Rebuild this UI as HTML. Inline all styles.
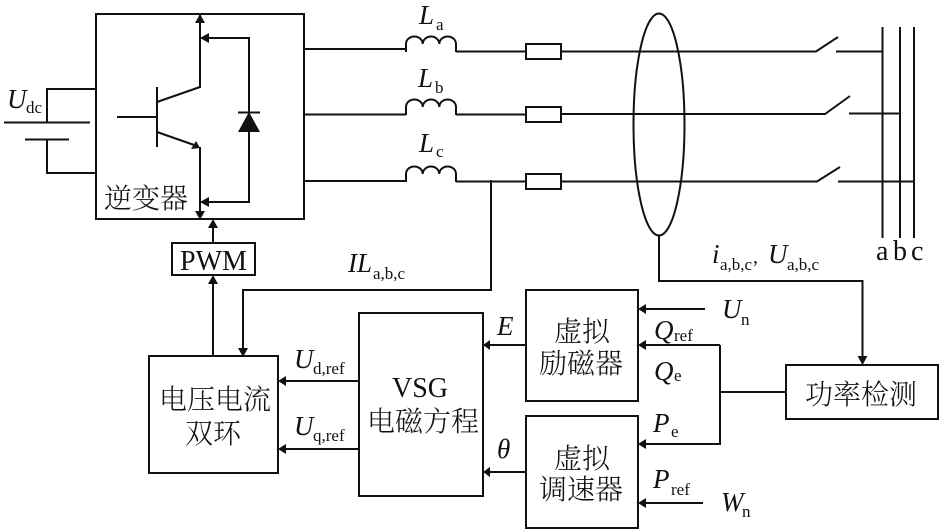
<!DOCTYPE html>
<html>
<head>
<meta charset="utf-8">
<style>
html,body{margin:0;padding:0;background:#fff;}
svg{display:block;}
text{fill:#111;}
.l{font-family:"Liberation Serif",serif;font-style:italic;font-size:27px;}
.s{font-family:"Liberation Serif",serif;font-size:17px;}
.r{font-family:"Liberation Serif",serif;font-size:28px;}
.c{font-family:"Liberation Serif","Noto Serif CJK SC",serif;font-size:28px;font-weight:300;}
</style>
</head>
<body>
<svg width="945" height="529" viewBox="0 0 945 529" xmlns="http://www.w3.org/2000/svg">
<rect width="945" height="529" fill="#fff"/>
<g fill="none" stroke="#111" stroke-width="2">
<!-- boxes -->
<rect x="96" y="14" width="208" height="205"/>
<rect x="172" y="243" width="83" height="32"/>
<rect x="149" y="356" width="129" height="117"/>
<rect x="359" y="313" width="124" height="183"/>
<rect x="526" y="290" width="112" height="111"/>
<rect x="526" y="416" width="112" height="112"/>
<rect x="786" y="365" width="152" height="54"/>
<!-- DC source -->
<path d="M96 89H47V122M4 122.500H90M25 139.500H69M47 139.500V173H96"/>
<!-- transistor -->
<path d="M157 87V147M117 117H157M157 102L200 87V14M157 132L197 146M200 147V219"/>
<path d="M200 38H249V202H200"/>
<path d="M238 112.500H260"/>
<!-- phase lines -->
<path d="M304 49H406M456 51.500H526M561 51.500H816L838 37M836 51.500H883"/>
<path d="M304 114.500H406M456 114.500H526M562 114H825L850 96M849 113.500H900"/>
<path d="M304 181H406M456 181.500H526M562 181.500H817L840 167M838 181.500H914"/>
<!-- inductors -->
<path d="M406 52V44A8.300 7.500 0 0 1 422.700 44A8.300 7.500 0 0 1 439.300 44A8.300 7.500 0 0 1 456 44V52"/>
<path d="M406 115V107A8.300 7.500 0 0 1 422.700 107A8.300 7.500 0 0 1 439.300 107A8.300 7.500 0 0 1 456 107V115"/>
<path d="M406 182V174A8.300 7.500 0 0 1 422.700 174A8.300 7.500 0 0 1 439.300 174A8.300 7.500 0 0 1 456 174V182"/>
<!-- resistors -->
<rect x="526" y="44" width="35" height="15"/>
<rect x="526" y="107" width="35" height="15"/>
<rect x="526" y="174" width="35" height="15"/>
<!-- bus -->
<path d="M882.500 27V238M900 27V238M914 27V238"/>
<!-- ellipse -->
<ellipse cx="659" cy="124.500" rx="25.500" ry="111"/>
<!-- connectors -->
<path d="M659 235V281H862.500V356"/>
<path d="M491 180V290H243V348"/>
<path d="M213 243V228M213 356V284"/>
<path d="M526 345H490M526 472H490M359 381H286M359 449H286"/>
<path d="M705 309H646M720 345H646M720 345V444H646M720 392H786M703 503H646"/>
</g>
<g fill="#111" stroke="none">
<polygon points="200,14 195,23 205,23"/>
<polygon points="200,38 209,33 209,43"/>
<polygon points="200,202 209,197 209,207"/>
<polygon points="200,220 195,211 205,211"/>
<polygon points="200,148 191,149 196,141"/>
<polygon points="249,112 238,132 260,132"/>
<polygon points="213,219 208,228 218,228"/>
<polygon points="213,275 208,284 218,284"/>
<polygon points="243,357 238,348 248,348"/>
<polygon points="862.500,365 857.500,356 867.500,356"/>
<polygon points="483,345 490,340 490,350"/>
<polygon points="483,472 490,467 490,477"/>
<polygon points="278,381 286,376 286,386"/>
<polygon points="278,449 286,444 286,454"/>
<polygon points="638,309 646,304 646,314"/>
<polygon points="638,345 646,340 646,350"/>
<polygon points="638,444 646,439 646,449"/>
<polygon points="638,503 646,498 646,508"/>
</g>
<!-- labels -->
<text class="l" x="7" y="108">U</text><text class="s" x="26" y="113">dc</text>
<text class="l" x="419" y="24">L</text><text class="s" x="436" y="30">a</text>
<text class="l" x="418" y="87">L</text><text class="s" x="435" y="93">b</text>
<text class="l" x="419" y="152">L</text><text class="s" x="436" y="157">c</text>
<text class="l" x="348" y="272">IL</text><text class="s" x="373" y="279">a,b,c</text>
<text class="l" x="712" y="263">i</text><text class="s" x="720" y="270">a,b,c</text><text class="r" x="753" y="263" style="font-size:20px">,</text>
<text class="l" x="768" y="263">U</text><text class="s" x="787" y="270">a,b,c</text>
<text class="r" x="876" y="260">a</text><text class="r" x="893" y="260">b</text><text class="r" x="911" y="260">c</text>
<text class="r" x="180" y="270">PWM</text>
<text class="c" x="104" y="208">逆变器</text>
<text class="c" x="159" y="409">电压电流</text>
<text class="c" x="185" y="443">双环</text>
<text class="r" x="392" y="397">VSG</text>
<text class="c" x="367" y="431">电磁方程</text>
<text class="c" x="554" y="341">虚拟</text>
<text class="c" x="539" y="373">励磁器</text>
<text class="c" x="554" y="468">虚拟</text>
<text class="c" x="539" y="499">调速器</text>
<text class="c" x="805" y="404">功率检测</text>
<text class="l" x="497" y="335">E</text>
<text class="l" x="497" y="458">θ</text>
<text class="l" x="294" y="368">U</text><text class="s" x="313" y="374">d,ref</text>
<text class="l" x="294" y="435">U</text><text class="s" x="313" y="441">q,ref</text>
<text class="l" x="722" y="318">U</text><text class="s" x="741" y="325">n</text>
<text class="l" x="654" y="339">Q</text><text class="s" x="674" y="341">ref</text>
<text class="l" x="654" y="380">Q</text><text class="s" x="674" y="381">e</text>
<text class="l" x="653" y="432">P</text><text class="s" x="671" y="437">e</text>
<text class="l" x="653" y="488">P</text><text class="s" x="671" y="495">ref</text>
<text class="l" x="721" y="511">W</text><text class="s" x="742" y="517">n</text>
</svg>
</body>
</html>
